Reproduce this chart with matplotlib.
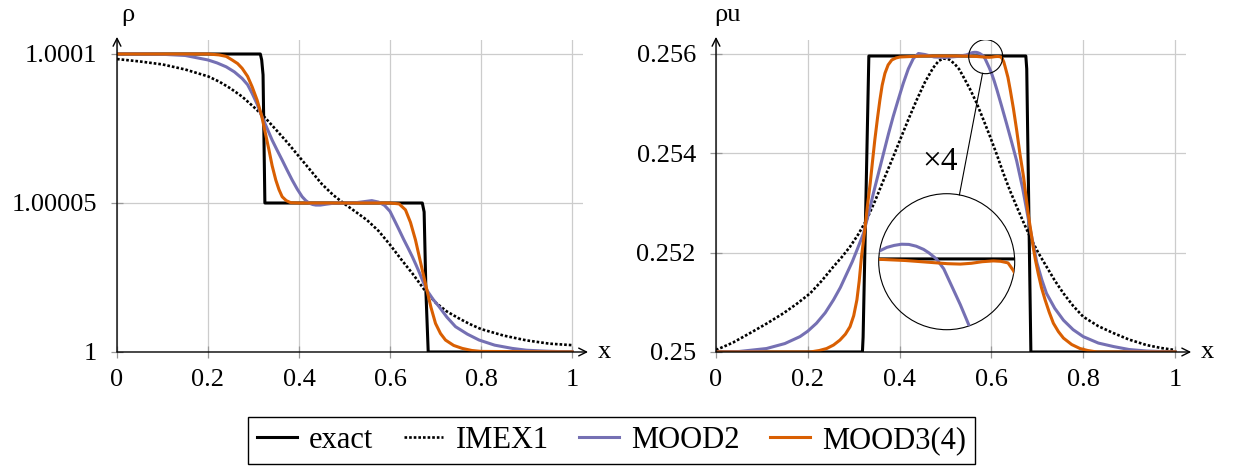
import numpy as np
import matplotlib
matplotlib.use("Agg")
import matplotlib.pyplot as plt
from matplotlib.patches import Circle, Ellipse
from matplotlib.lines import Line2D

plt.rcParams['font.family'] = ['Liberation Serif', 'DejaVu Serif']
plt.rcParams['font.size'] = 19

# ---- data: density (rho - 1, in units of 1e-5) ----
x_rho_exact = [0, 0.315, 0.318, 0.321, 0.325, 0.671, 0.675, 0.679, 0.684, 1.0]
rho_exact_e5 = [10, 10, 9.8, 9.3, 5.0, 5.0, 4.7, 2.0, 0, 0]

x_rho_imex = [0, 0.05, 0.1, 0.15, 0.2, 0.225, 0.25, 0.275, 0.3, 0.325, 0.35, 0.375, 0.4,
              0.425, 0.45, 0.475, 0.5, 0.525, 0.55, 0.575, 0.6, 0.625, 0.65, 0.675, 0.7,
              0.725, 0.75, 0.775, 0.8, 0.85, 0.9, 0.95, 1.0]
rho_imex_e5 = [9.83, 9.75, 9.65, 9.48, 9.25, 9.07, 8.84, 8.57, 8.23, 7.87, 7.45, 7.02, 6.56,
               6.1, 5.64, 5.27, 4.97, 4.7, 4.42, 4.06, 3.6, 3.1, 2.62, 2.1, 1.66,
               1.36, 1.14, 0.94, 0.77, 0.55, 0.39, 0.28, 0.23]

x_rho_m2 = [0, 0.05, 0.1, 0.15, 0.2, 0.22, 0.24, 0.258, 0.275, 0.287, 0.297, 0.308, 0.318,
            0.33, 0.341, 0.352, 0.363, 0.374, 0.385, 0.396, 0.407, 0.415, 0.422, 0.43,
            0.437, 0.447, 0.46, 0.48, 0.52, 0.54, 0.56, 0.575, 0.588, 0.6, 0.612, 0.62,
            0.63, 0.64, 0.649, 0.657, 0.665, 0.673, 0.682, 0.695, 0.708, 0.725, 0.744,
            0.77, 0.796, 0.83, 0.869, 0.9, 0.94, 1.0]
rho_m2_e5 = [10, 10, 9.99, 9.95, 9.8, 9.7, 9.57, 9.4, 9.18, 8.97, 8.68, 8.32, 7.92,
             7.5, 7.11, 6.77, 6.44, 6.1, 5.77, 5.47, 5.21, 5.08, 5.0, 4.95,
             4.93, 4.93, 4.96, 5.0, 5.0, 5.04, 5.08, 5.03, 4.92, 4.72, 4.35, 4.1,
             3.78, 3.48, 3.2, 2.93, 2.65, 2.35, 2.05, 1.76, 1.52, 1.17, 0.85,
             0.6, 0.40, 0.23, 0.12, 0.06, 0.03, 0]

x_rho_m3 = [0, 0.2, 0.224, 0.24, 0.253, 0.265, 0.275, 0.287, 0.297, 0.308, 0.318, 0.326,
            0.334, 0.341, 0.349, 0.356, 0.363, 0.372, 0.382, 0.4, 0.5, 0.6, 0.62, 0.634,
            0.645, 0.656, 0.668, 0.682, 0.69, 0.7, 0.711, 0.722, 0.74, 0.759, 0.78, 0.8, 1.0]
rho_m3_e5 = [10, 10, 9.97, 9.92, 9.8, 9.68, 9.52, 9.25, 8.9, 8.45, 7.92, 7.35,
             6.78, 6.25, 5.77, 5.45, 5.21, 5.08, 5.01, 5.0, 5.0, 5.0, 4.97, 4.77,
             4.35, 3.76, 2.95, 2.02, 1.5, 0.96, 0.62, 0.40, 0.22, 0.12, 0.05, 0.02, 0]

# ---- data: momentum rho*u ----
x_ru_exact = [0, 0.319, 0.3205, 0.333, 0.675, 0.677, 0.686, 1.0]
ru_exact = [0.25, 0.25, 0.2503, 0.25596, 0.25596, 0.2557, 0.25, 0.25]

x_ru_imex = [0, 0.037, 0.074, 0.11, 0.147, 0.176, 0.205, 0.23, 0.256, 0.274, 0.292, 0.31,
             0.328, 0.346, 0.365, 0.383, 0.401, 0.419, 0.437, 0.455, 0.473, 0.485, 0.495,
             0.508, 0.52, 0.53, 0.539, 0.553, 0.568, 0.582, 0.597, 0.612, 0.626, 0.64,
             0.655, 0.67, 0.684, 0.702, 0.72, 0.738, 0.757, 0.778, 0.8, 0.833, 0.866,
             0.9, 0.938, 0.97, 1.0]
ru_imex = [0.25004, 0.25019, 0.25038, 0.25057, 0.25078, 0.25097, 0.25118, 0.25143, 0.25172,
           0.25191, 0.25212, 0.25237, 0.25266, 0.25303, 0.25346, 0.25386, 0.25427, 0.25468,
           0.25507, 0.25543, 0.25572, 0.25586, 0.25591, 0.25589, 0.2558, 0.25569, 0.25554,
           0.2553, 0.25501, 0.25469, 0.25434, 0.25397, 0.2536, 0.25326, 0.25293, 0.25261,
           0.25232, 0.252, 0.25172, 0.25144, 0.25118, 0.25093, 0.25071, 0.25052, 0.25038,
           0.25025, 0.25014, 0.25008, 0.25004]

x_ru_m2 = [0, 0.05, 0.11, 0.15, 0.183, 0.2, 0.219, 0.238, 0.256, 0.271, 0.285, 0.297, 0.307,
           0.321, 0.332, 0.343, 0.354, 0.365, 0.376, 0.386, 0.397, 0.408, 0.419, 0.43,
           0.441, 0.455, 0.475, 0.5, 0.525, 0.545, 0.551, 0.555, 0.559, 0.563, 0.567,
           0.571, 0.575, 0.578, 0.582, 0.586, 0.591, 0.595, 0.6, 0.606,
           0.612, 0.622, 0.633, 0.644, 0.655, 0.668, 0.684, 0.699, 0.71, 0.72, 0.738,
           0.757, 0.778, 0.8, 0.833, 0.866, 0.9, 0.938, 1.0]
ru_m2 = [0.25, 0.25001, 0.25007, 0.25017, 0.25031, 0.25042, 0.25058, 0.25079, 0.25105,
         0.2513, 0.25158, 0.25182, 0.25205, 0.25238, 0.25277, 0.2532, 0.2536, 0.254,
         0.2544, 0.25474, 0.25508, 0.25541, 0.2557, 0.25591, 0.25601, 0.25599, 0.25594,
         0.25593, 0.25595, 0.25598, 0.256, 0.256018, 0.256028, 0.256034, 0.256033,
         0.256024, 0.256008, 0.25599, 0.25596, 0.25591, 0.25581, 0.25573, 0.25562, 0.25546,
         0.25528, 0.25496, 0.2546, 0.25423, 0.25385, 0.2533, 0.2525, 0.2518, 0.25145,
         0.25118, 0.25088, 0.25064, 0.25045, 0.25031, 0.25018, 0.25011, 0.25005, 0.25002, 0.25]

x_ru_m3 = [0, 0.205, 0.225, 0.241, 0.256, 0.27, 0.282, 0.292, 0.3, 0.307, 0.312, 0.317,
           0.321, 0.325, 0.33, 0.336, 0.341, 0.346, 0.352, 0.357, 0.362, 0.368, 0.375,
           0.383, 0.392, 0.401, 0.45, 0.5, 0.551, 0.565, 0.578, 0.588, 0.595, 0.601,
           0.607, 0.613, 0.617, 0.621, 0.624, 0.627, 0.63, 0.636, 0.641, 0.648, 0.655,
           0.662, 0.67, 0.675, 0.68, 0.686,
           0.691, 0.696, 0.702, 0.709, 0.717, 0.726, 0.735, 0.746, 0.757, 0.775, 0.793,
           0.81, 0.83, 1.0]
ru_m3 = [0.25, 0.25, 0.25003, 0.25007, 0.25014, 0.25024, 0.25036, 0.25051, 0.25073,
         0.25105, 0.25143, 0.25192, 0.25222, 0.25252, 0.25295, 0.2534, 0.25384, 0.25427,
         0.25472, 0.25507, 0.25537, 0.25561, 0.25578, 0.25588, 0.25592, 0.25594, 0.25596,
         0.25596, 0.255958, 0.255952, 0.255943, 0.255936, 0.255934, 0.255938,
         0.255946, 0.25595, 0.255948, 0.25594, 0.2559, 0.25584, 0.25574, 0.25553,
         0.25528, 0.2549, 0.25447, 0.254, 0.25353, 0.25316, 0.25279, 0.25243,
         0.25212, 0.25185, 0.25158, 0.2513, 0.25105, 0.2508, 0.25058, 0.25041, 0.25028,
         0.25015, 0.25007, 0.25003, 0.25, 0.25]

xticks = [0, 0.2, 0.4, 0.6, 0.8, 1.0]
xtick_labels = ['0', '0.2', '0.4', '0.6', '0.8', '1']
rho_ticks = [1, 1.00005, 1.0001]
rho_tick_labels = ['1', '1.00005', '1.0001']
ru_ticks = [0.25, 0.252, 0.254, 0.256]
ru_tick_labels = ['0.25', '0.252', '0.254', '0.256']

# spy (zoom) on the right panel
spy_center = (0.5876, 0.255946)
spy_r_px = 17
spy_mag = 4
lens_center_px = (946.7, 261.7)   # figure pixels from top-left

labels = ['exact', 'IMEX1', 'MOOD2', 'MOOD3(4)']
styles = [dict(color='black', lw=2.2),
          dict(color='black', lw=1.9, ls=(0, (1, 0.75))),
          dict(color='#7570b3', lw=2.2),
          dict(color='#d95f02', lw=2.2)]

W, H = 1233, 466
fig = plt.figure(figsize=(W / 100, H / 100), dpi=100)

XMAX = 1.025
ax1_px = (117, 352, 455 * XMAX, 312)     # left, bottom(y from top), width, height
ax2_px = (716, 352, 459 * XMAX, 312)


def make_ax(p):
    return fig.add_axes([p[0] / W, 1 - p[1] / H, p[2] / W, p[3] / H])


ax1 = make_ax(ax1_px)
ax2 = make_ax(ax2_px)

rho_top = 1 + 312 / 298 * 1e-4
ru_top = 0.25 + 312 / 298 * 0.006


def setup(ax, ylim, yticks, ylabels, ylab):
    ax.set_xlim(0, XMAX)
    ax.set_ylim(*ylim)
    ax.set_xticks(xticks)
    ax.set_xticklabels(xtick_labels)
    ax.set_yticks(yticks)
    ax.set_yticklabels(ylabels)
    ax.grid(True, color='#cccccc', lw=0.9)
    ax.set_axisbelow(True)
    for s in ax.spines.values():
        s.set_visible(False)
    ax.tick_params(direction='inout', length=9, width=0.9, color='#999999')
    ax.tick_params(axis='y', pad=10)
    ax.tick_params(axis='x', pad=8)
    arrow = dict(arrowstyle='->', lw=1.0, color='black', shrinkA=0, shrinkB=0,
                 mutation_scale=14)
    ax.annotate('', xy=(0, 1.01), xytext=(0, 0), xycoords='axes fraction', arrowprops=arrow)
    ax.annotate('', xy=(1.01, 0), xytext=(0, 0), xycoords='axes fraction', arrowprops=arrow)
    ax.text(0.024, 1.08, ylab, transform=ax.transAxes, ha='center', va='center')
    ax.text(1.03, 0.0, 'x', transform=ax.transAxes, ha='left', va='center')


setup(ax1, (1, rho_top), rho_ticks, rho_tick_labels, 'ρ')
setup(ax2, (0.25, ru_top), ru_ticks, ru_tick_labels, 'ρu')

rho_series = [(x_rho_exact, rho_exact_e5), (x_rho_imex, rho_imex_e5),
              (x_rho_m2, rho_m2_e5), (x_rho_m3, rho_m3_e5)]
ru_series = [(x_ru_exact, ru_exact), (x_ru_imex, ru_imex),
             (x_ru_m2, ru_m2), (x_ru_m3, ru_m3)]

handles = []
for (xs, ys), st, lab in zip(rho_series, styles, labels):
    h, = ax1.plot(xs, 1 + np.array(ys) * 1e-5, label=lab, **st)
    handles.append(h)
for (xs, ys), st in zip(ru_series, styles):
    ax2.plot(xs, ys, **st)

# small spy circle on ax2
px_per_x = ax2_px[2] / XMAX
px_per_v = ax2_px[3] / (ru_top - 0.25)
ax2.add_patch(Ellipse(spy_center, 2 * spy_r_px / px_per_x, 2 * spy_r_px / px_per_v,
                      fill=False, ec='black', lw=0.8, zorder=5))

# magnified lens
R = spy_r_px * spy_mag
axin = fig.add_axes([(lens_center_px[0] - R) / W, 1 - (lens_center_px[1] + R) / H,
                     2 * R / W, 2 * R / H])
axin.set_xlim(spy_center[0] - spy_r_px / px_per_x, spy_center[0] + spy_r_px / px_per_x)
axin.set_ylim(spy_center[1] - spy_r_px / px_per_v, spy_center[1] + spy_r_px / px_per_v)
axin.axis('off')
axin.patch.set_alpha(0)
clip = Circle((0.5, 0.5), 0.5, transform=axin.transAxes)
for (xs, ys), st in zip(ru_series, styles):
    ln, = axin.plot(xs, ys, **st)
    ln.set_clip_path(clip)
axin.add_patch(Circle((0.5, 0.5), 0.5, transform=axin.transAxes, fill=False,
                      ec='black', lw=0.8, clip_on=False))

# connector between the circles
sx = ax2_px[0] + spy_center[0] * px_per_x
sy = ax2_px[1] - (spy_center[1] - 0.25) * px_per_v
dx, dy = lens_center_px[0] - sx, lens_center_px[1] - sy
n = np.hypot(dx, dy)
ux, uy = dx / n, dy / n
p0 = (sx + ux * spy_r_px, sy + uy * spy_r_px)
p1 = (lens_center_px[0] - ux * R, lens_center_px[1] - uy * R)
fig.add_artist(Line2D([p0[0] / W, p1[0] / W], [1 - p0[1] / H, 1 - p1[1] / H],
                      transform=fig.transFigure, color='black', lw=0.8))
fig.text(940 / W, 1 - 162 / H, '×4', ha='center', va='center', fontsize=24)

leg = fig.legend(handles, labels, loc='center', bbox_to_anchor=(611.5 / W, 1 - 440.5 / H),
                 ncol=4, frameon=True, fancybox=False, edgecolor='black', framealpha=1,
                 fontsize=22, handlelength=1.3, handletextpad=0.4, columnspacing=1.0,
                 borderpad=0.3)
leg.get_frame().set_linewidth(1.0)

fig.savefig('out.png', dpi=100)
